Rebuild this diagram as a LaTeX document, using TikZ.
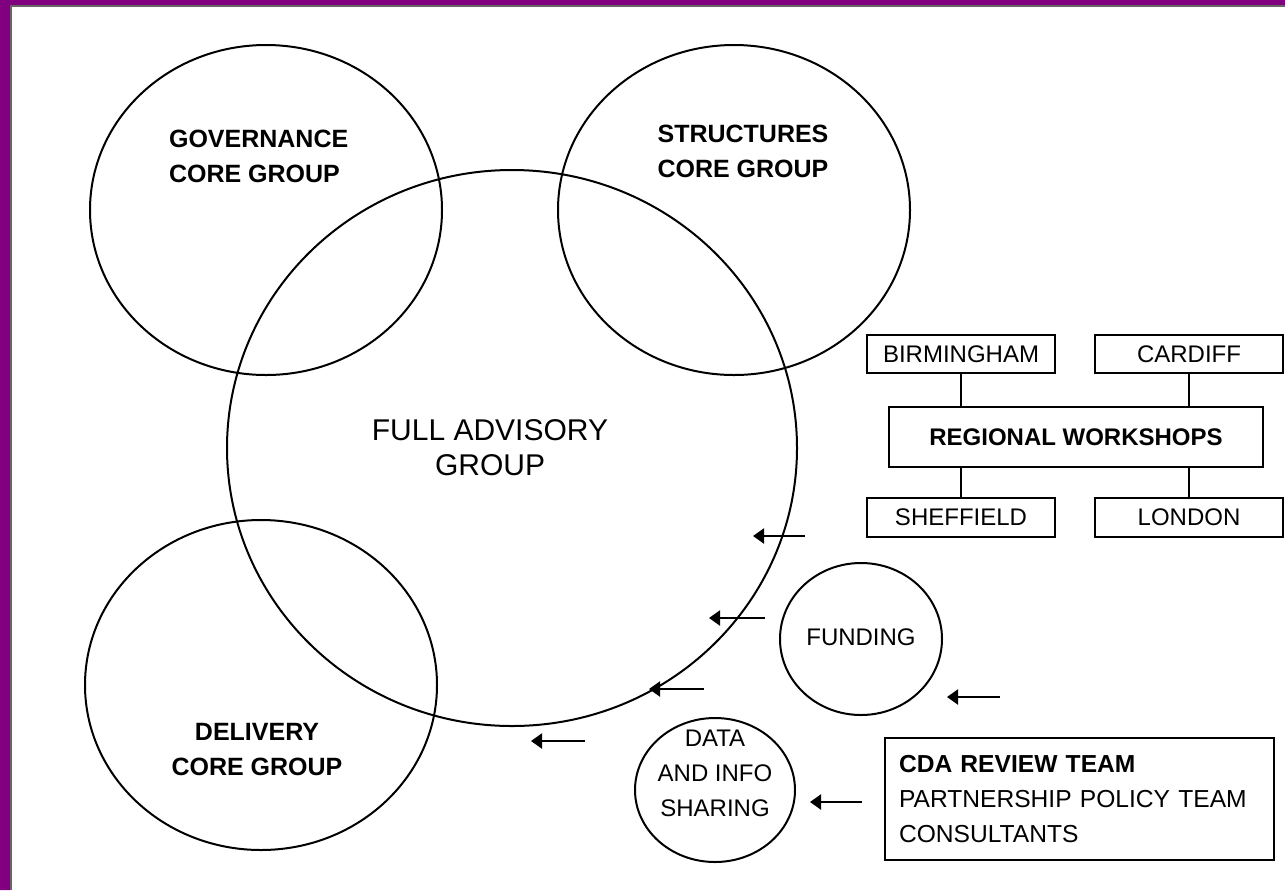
\documentclass[tikz,border=0pt]{standalone}
\usepackage{fontspec}
\setmainfont{Liberation Sans}
\usetikzlibrary{arrows.meta,shapes.geometric}
\definecolor{frame}{HTML}{800080}
\tikzset{ring/.style={ellipse,draw,line width=1pt,inner sep=0pt},
         hd/.style={font=\bfseries\fontsize{12.5}{17.5}\selectfont,align=center},
         txt/.style={font=\fontsize{12}{17.5}\selectfont,align=center},
         box/.style={rectangle,draw,line width=1pt,font=\fontsize{12}{14}\selectfont,inner sep=0pt},
         feed/.style={-{Triangle[length=5.5pt,width=7.5pt]},line width=1.1pt}}

\begin{document}
\begin{tikzpicture}[x=0.5pt,y=-0.5pt]
            \useasboundingbox (0,0) rectangle (1285,890);
            \fill[white] (0,0) rectangle (1285,890);
            \fill[frame] (0,0) rectangle (10,890) (0,0) rectangle (1285,5);
            \draw[black!60,line width=1pt] (11,890) -- (11,6) -- (1285,6);

            % the four groups
            \node[ring,minimum width=176pt,minimum height=165pt] (gov) at (266,210) {};
            \node[ring,minimum width=176pt,minimum height=165pt] (str) at (734,210) {};
            \node[ring,minimum width=285pt,minimum height=278pt] (full) at (512,448) {};
            \node[ring,minimum width=176pt,minimum height=165pt] (del) at (261,685) {};
            \node[hd,anchor=west,align=left] (govt) at (162,156) {GOVERNANCE\\CORE GROUP};
            \node[hd] (strt) at (743,151) {STRUCTURES\\CORE GROUP};
            \node[txt,font=\fontsize{15}{17.5}\selectfont] (fullt) at (490,448) {FULL ADVISORY\\GROUP};
            \node[hd] (delt) at (257,750) {DELIVERY\\CORE GROUP};

            % workshops
            \node[box,minimum width=94pt,minimum height=19pt] (bir) at (961,354) {BIRMINGHAM};
            \node[box,minimum width=94pt,minimum height=19pt] (car) at (1189,354) {CARDIFF};
            \node[box,minimum width=187pt,minimum height=30pt,font=\bfseries\fontsize{12}{14}\selectfont] (reg) at (1076,437) {REGIONAL WORKSHOPS};
            \node[box,minimum width=94pt,minimum height=19.5pt] (she) at (961,517) {SHEFFIELD};
            \node[box,minimum width=94pt,minimum height=19.5pt] (lon) at (1189,517) {LONDON};
            \draw[line width=1pt] (bir.south) -- (bir.south |- reg.north);
            \draw[line width=1pt] (car.south) -- (car.south |- reg.north);
            \draw[line width=1pt] (she.north) -- (she.north |- reg.south);
            \draw[line width=1pt] (lon.north) -- (lon.north |- reg.south);

            % inputs
            \node[ring,minimum width=81pt,minimum height=76pt] (fund) at (861,639) {};
            \node[txt] (fundt) at (861,637) {FUNDING};
            \node[ring,minimum width=80pt,minimum height=72pt] (data) at (715,790) {};
            \node[txt] (datat) at (715,773) {DATA\\AND INFO\\SHARING};
            \node[box,minimum width=194.5pt,minimum height=61pt,text width=180pt,align=left,
                  font=\fontsize{12.3}{17.5}\selectfont] (cda) at (1079,799)
                  {\textbf{CDA REVIEW TEAM}\\PARTNERSHIP POLICY TEAM\\CONSULTANTS};

            \coordinate (t1) at (805,536); \coordinate (h1) at (753,536);
            \coordinate (t2) at (765,618); \coordinate (h2) at (709,618);
            \coordinate (t3) at (704,689); \coordinate (h3) at (649,689);
            \coordinate (t4) at (1000,697); \coordinate (h4) at (947,697);
            \coordinate (t5) at (585,741); \coordinate (h5) at (531,741);
            \coordinate (t6) at (862,802); \coordinate (h6) at (810,802);
            \foreach \i in {1,...,6}
                \draw[feed] (t\i) -- (h\i);
        \end{tikzpicture}
\end{document}
